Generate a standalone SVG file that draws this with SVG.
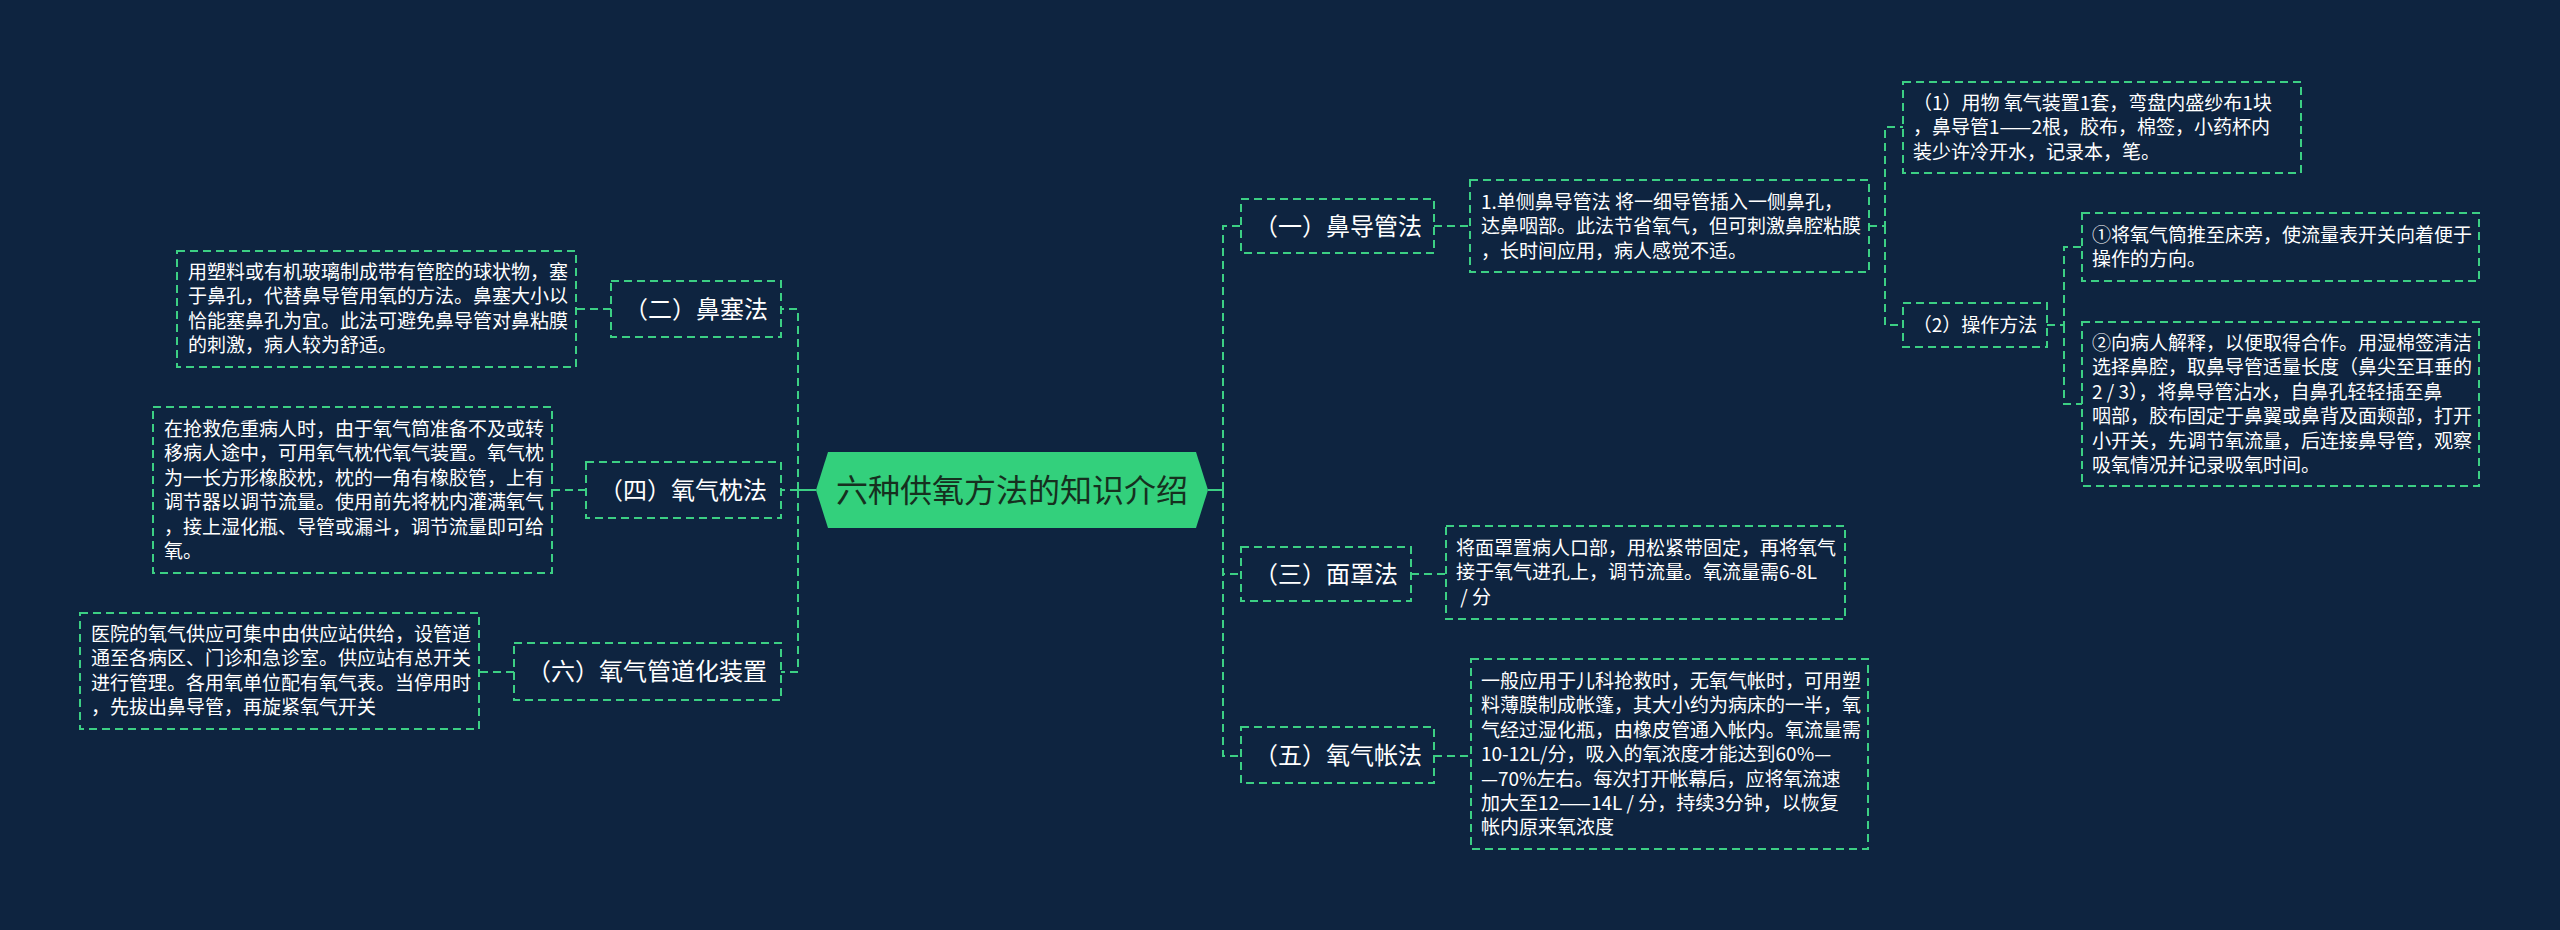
<svg xmlns="http://www.w3.org/2000/svg" width="2560" height="930" viewBox="0 0 2560 930">
<style>
.bg{fill:#0e2440}
.box{fill:none;stroke:#3ccf84;stroke-width:2;stroke-dasharray:8 5}
.ln{fill:none;stroke:#3ccf84;stroke-width:2;stroke-dasharray:8 5}
.solid{fill:none;stroke:#3ccf84;stroke-width:2}
.t{font-family:"Noto Sans CJK SC","Noto Sans",sans-serif;font-size:19px;fill:#ffffff}
.l1{font-family:"Noto Sans CJK SC","Noto Sans",sans-serif;font-size:24px;fill:#ffffff;text-anchor:middle}
.title{font-family:"Noto Sans CJK SC","Noto Sans",sans-serif;font-size:32px;fill:#16301f;text-anchor:middle}
</style>
<rect class="bg" x="0" y="0" width="2560" height="930"/>

<g id="connectors">
  <path class="solid" d="M1208 490 H1223"/>
  <path class="ln" d="M1223 490 V226 H1241"/>
  <path class="ln" d="M1223 490 V574 H1241"/>
  <path class="ln" d="M1223 490 V756 H1241"/>
  <path class="solid" d="M816 490 H798"/>
  <path class="ln" d="M798 490 V309 H781"/>
  <path class="ln" d="M798 490 H781"/>
  <path class="ln" d="M798 490 V672 H781"/>
  <path class="ln" d="M1434 226 H1470"/>
  <path class="ln" d="M1411 574 H1446"/>
  <path class="ln" d="M1434 756 H1471"/>
  <path class="ln" d="M1869 226 H1885 V127 H1903"/>
  <path class="ln" d="M1885 226 V325 H1903"/>
  <path class="ln" d="M2047 325 H2064 V247 H2082"/>
  <path class="ln" d="M2064 325 V404 H2082"/>
  <path class="ln" d="M611 309 H576"/>
  <path class="ln" d="M586 490 H552"/>
  <path class="ln" d="M514 672 H479"/>
</g>

<g id="center">
  <polygon points="816,490 828,452 1196,452 1208,490 1196,528 828,528" fill="#33d07c"/>
  <text class="title" x="1012" y="502">六种供氧方法的知识介绍</text>
</g>

<g id="n1">
  <rect class="box" x="1241" y="199" width="193" height="54"/>
  <text class="l1" x="1338" y="235">（一）鼻导管法</text>
</g>
<g id="n1a">
  <rect class="box" x="1470" y="180" width="399" height="92"/>
  <text class="t" x="1481" y="209">1.单侧鼻导管法 将一细导管插入一侧鼻孔，<tspan x="1481" dy="24.4">达鼻咽部。此法节省氧气，但可刺激鼻腔粘膜</tspan><tspan x="1481" dy="24.4">，长时间应用，病人感觉不适。</tspan></text>
</g>
<g id="n1b">
  <rect class="box" x="1903" y="82" width="398" height="91"/>
  <text class="t" x="1913" y="110">（1）用物 氧气装置1套，弯盘内盛纱布1块<tspan x="1913" dy="24.4">，鼻导管1——2根，胶布，棉签，小药杯内</tspan><tspan x="1913" dy="24.4">装少许冷开水，记录本，笔。</tspan></text>
</g>
<g id="n1c">
  <rect class="box" x="1903" y="303" width="144" height="44"/>
  <text class="t" x="1975" y="332" text-anchor="middle">（2）操作方法</text>
</g>
<g id="n1c1">
  <rect class="box" x="2082" y="213" width="397" height="68"/>
  <text class="t" x="2092" y="242">①将氧气筒推至床旁，使流量表开关向着便于<tspan x="2092" dy="24.4">操作的方向。</tspan></text>
</g>
<g id="n1c2">
  <rect class="box" x="2082" y="322" width="397" height="164"/>
  <text class="t" x="2092" y="350">②向病人解释，以便取得合作。用湿棉签清洁<tspan x="2092" dy="24.4">选择鼻腔，取鼻导管适量长度（鼻尖至耳垂的</tspan><tspan x="2092" dy="24.4">2 / 3），将鼻导管沾水，自鼻孔轻轻插至鼻</tspan><tspan x="2092" dy="24.4">咽部，胶布固定于鼻翼或鼻背及面颊部，打开</tspan><tspan x="2092" dy="24.4">小开关，先调节氧流量，后连接鼻导管，观察</tspan><tspan x="2092" dy="24.4">吸氧情况并记录吸氧时间。</tspan></text>
</g>

<g id="n3">
  <rect class="box" x="1241" y="547" width="170" height="54"/>
  <text class="l1" x="1326" y="583">（三）面罩法</text>
</g>
<g id="n3a">
  <rect class="box" x="1446" y="526" width="399" height="93"/>
  <text class="t" x="1456" y="555">将面罩置病人口部，用松紧带固定，再将氧气<tspan x="1456" dy="24.4">接于氧气进孔上，调节流量。氧流量需6-8L</tspan><tspan x="1456" dy="24.4"> / 分</tspan></text>
</g>

<g id="n5">
  <rect class="box" x="1241" y="727" width="193" height="56"/>
  <text class="l1" x="1338" y="764">（五）氧气帐法</text>
</g>
<g id="n5a">
  <rect class="box" x="1471" y="659" width="397" height="190"/>
  <text class="t" x="1481" y="688">一般应用于儿科抢救时，无氧气帐时，可用塑<tspan x="1481" dy="24.4">料薄膜制成帐篷，其大小约为病床的一半，氧</tspan><tspan x="1481" dy="24.4">气经过湿化瓶，由橡皮管通入帐内。氧流量需</tspan><tspan x="1481" dy="24.4">10-12L/分，吸入的氧浓度才能达到60%—</tspan><tspan x="1481" dy="24.4">—70%左右。每次打开帐幕后，应将氧流速</tspan><tspan x="1481" dy="24.4">加大至12——14L / 分，持续3分钟，以恢复</tspan><tspan x="1481" dy="24.4">帐内原来氧浓度</tspan></text>
</g>

<g id="n2">
  <rect class="box" x="611" y="281" width="170" height="56"/>
  <text class="l1" x="696" y="318">（二）鼻塞法</text>
</g>
<g id="n2a">
  <rect class="box" x="177" y="251" width="399" height="116"/>
  <text class="t" x="188" y="279">用塑料或有机玻璃制成带有管腔的球状物，塞<tspan x="188" dy="24.4">于鼻孔，代替鼻导管用氧的方法。鼻塞大小以</tspan><tspan x="188" dy="24.4">恰能塞鼻孔为宜。此法可避免鼻导管对鼻粘膜</tspan><tspan x="188" dy="24.4">的刺激，病人较为舒适。</tspan></text>
</g>

<g id="n4">
  <rect class="box" x="586" y="462" width="195" height="56"/>
  <text class="l1" x="683" y="499">（四）氧气枕法</text>
</g>
<g id="n4a">
  <rect class="box" x="153" y="407" width="399" height="166"/>
  <text class="t" x="164" y="436">在抢救危重病人时，由于氧气筒准备不及或转<tspan x="164" dy="24.4">移病人途中，可用氧气枕代氧气装置。氧气枕</tspan><tspan x="164" dy="24.4">为一长方形橡胶枕，枕的一角有橡胶管，上有</tspan><tspan x="164" dy="24.4">调节器以调节流量。使用前先将枕内灌满氧气</tspan><tspan x="164" dy="24.4">，接上湿化瓶、导管或漏斗，调节流量即可给</tspan><tspan x="164" dy="24.4">氧。</tspan></text>
</g>

<g id="n6">
  <rect class="box" x="514" y="643" width="267" height="57"/>
  <text class="l1" x="647" y="680">（六）氧气管道化装置</text>
</g>
<g id="n6a">
  <rect class="box" x="80" y="613" width="399" height="116"/>
  <text class="t" x="91" y="641">医院的氧气供应可集中由供应站供给，设管道<tspan x="91" dy="24.4">通至各病区、门诊和急诊室。供应站有总开关</tspan><tspan x="91" dy="24.4">进行管理。各用氧单位配有氧气表。当停用时</tspan><tspan x="91" dy="24.4">，先拔出鼻导管，再旋紧氧气开关</tspan></text>
</g>
</svg>
